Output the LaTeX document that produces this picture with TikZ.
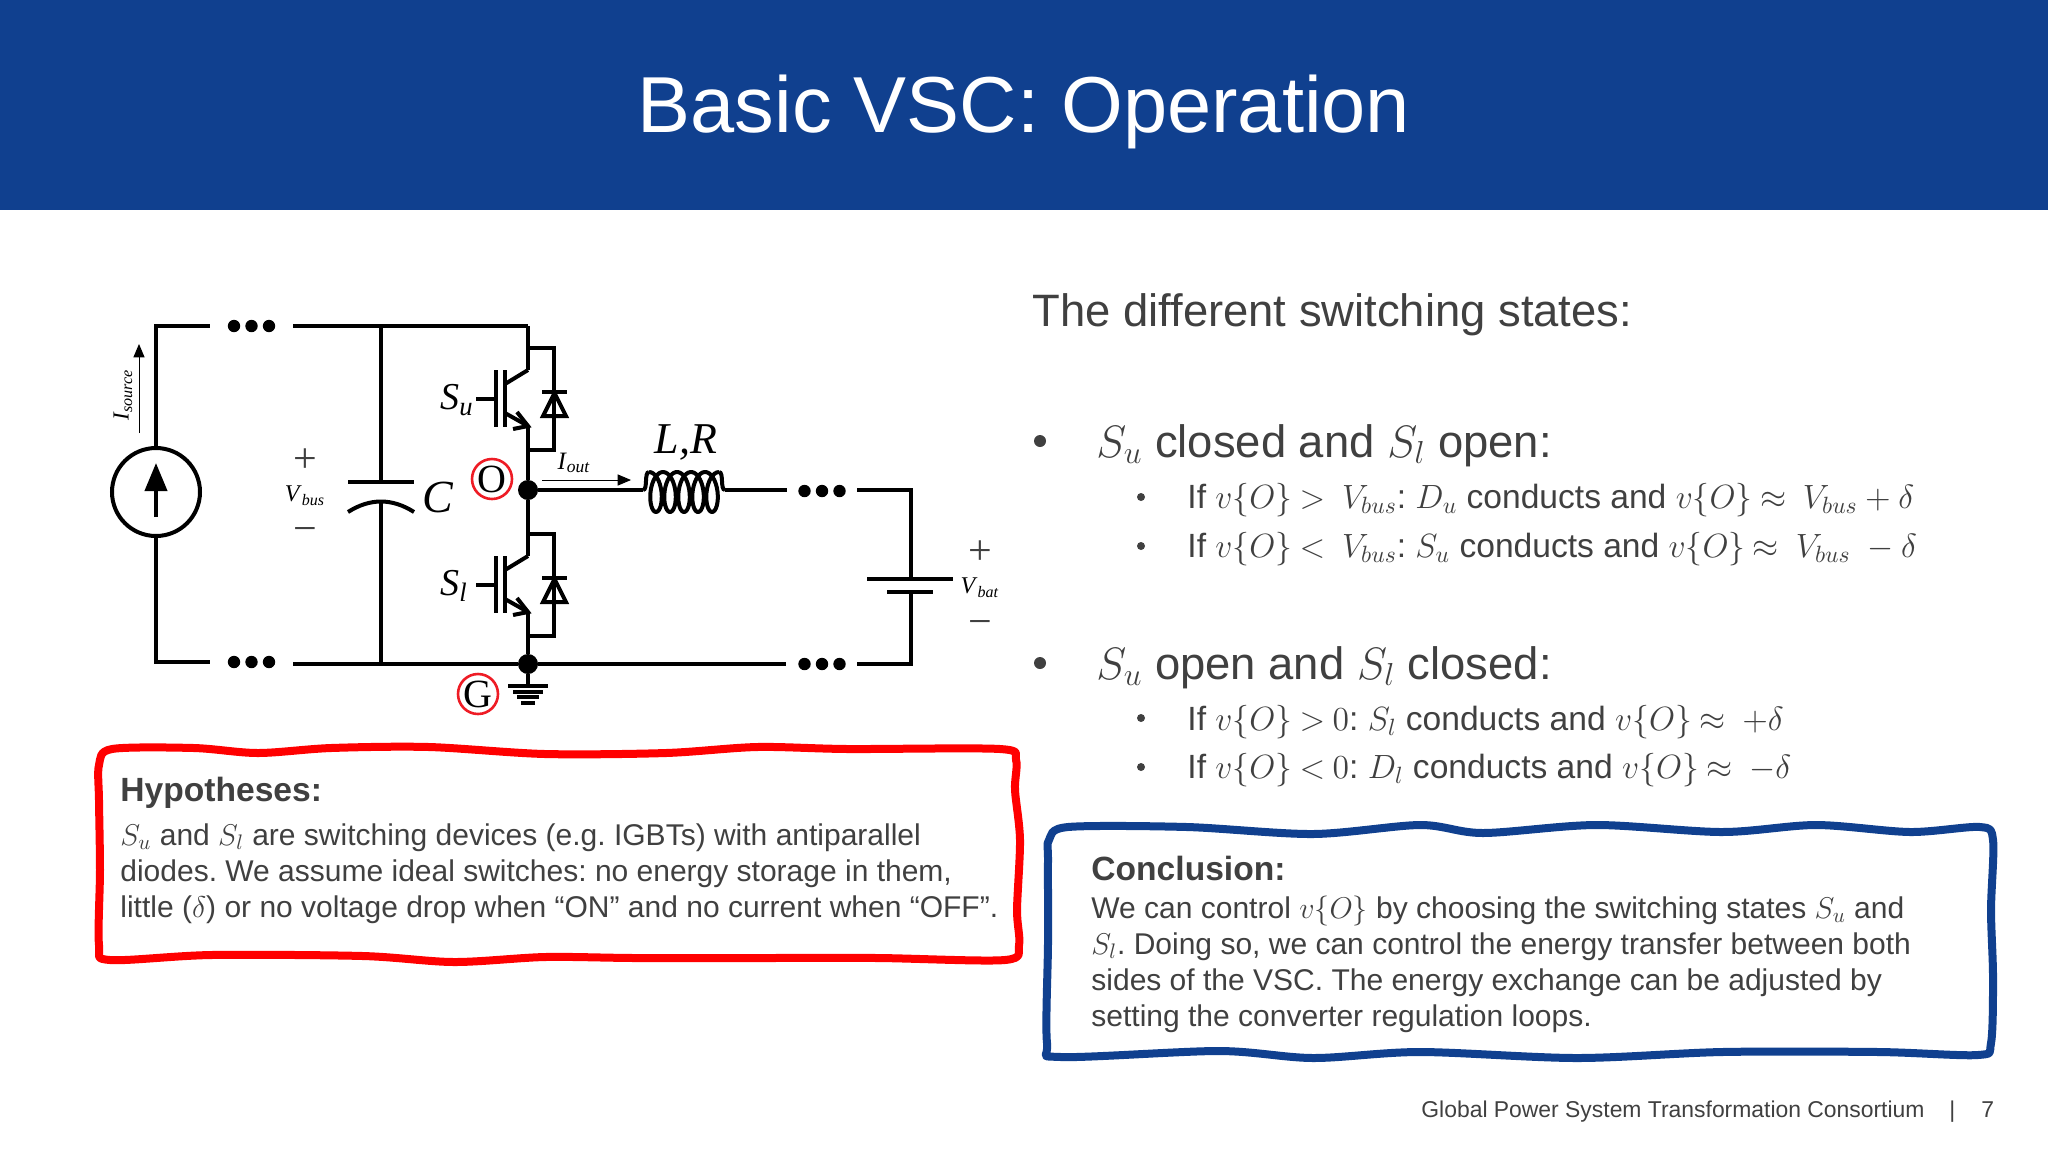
\RequirePackage{fix-cm}
\documentclass[tikz,border=0pt]{standalone}
\usepackage{amsmath}
\usepackage{fontspec}
\setmainfont{Liberation Sans}
\newfontfamily\circfont{Liberation Serif}
\usetikzlibrary{arrows,arrows.meta,calc,positioning}
\definecolor{slideblue}{HTML}{10408F}
\definecolor{slidegrey}{HTML}{404040}
\definecolor{markred}{HTML}{EE1C25}
\newcommand{\fsz}[1]{\fontsize{#1}{#1}\selectfont}
\newcommand{\circlbl}[3]{\fsz{#1}\circfont\textit{#2}\textsubscript{\textit{#3}}}
\newcommand{\vO}{v\{O\}}
\thickmuskip=4mu\relax
\frenchspacing
\tikzset{
	wire/.style={line width=2pt,black},
	thinarrow/.style={->,>=triangle 45,line width=0.5pt,black},
	wiredot/.style={circle,fill=black,inner sep=0pt,minimum size=6.2pt},
	joindot/.style={circle,fill=black,inner sep=0pt,minimum size=10pt},
	redmark/.style={circle,draw=markred,line width=1.3pt,inner sep=0pt,minimum size=20pt,font=\circfont\fsz{20}},
	txt/.style={anchor=base west,inner sep=0pt,text=slidegrey},
	lbl/.style={inner sep=0pt,text=black},
	lblgrey/.style={inner sep=0pt,text=black!75},
	bulletbig/.style={circle,fill=slidegrey,inner sep=0pt,minimum size=6pt},
	bulletsmall/.style={circle,fill=slidegrey,inner sep=0pt,minimum size=4pt},
	wavybox/.style={line width=4pt,line join=round,fill=white}
}
\begin{document}
\begin{tikzpicture}[x=0.5pt,y=-0.5pt]
	\useasboundingbox (0,0) rectangle (2048,1152);
	\fill[slideblue] (0,0) rectangle (2048,210);
	\node[inner sep=0pt,text=white,font=\fsz{39.7}] (title) at (1024,112) {Basic VSC: Operation};

	% circuit
	\node[circle,draw,line width=2pt,minimum size=44pt,inner sep=0pt] (src) at (156,492) {};
	\draw[line width=2pt,-{Triangle[length=14pt,width=11pt]}] (156,517) -- (156,463);
	\coordinate (tl1) at (210,326);
	\coordinate (tl2) at (293,326);
	\coordinate (bl1) at (210,662);
	\coordinate (bl2) at (293,664);
	\coordinate (coilL) at (643,490);
	\coordinate (coilR) at (725,490);
	\coordinate (tr1) at (787,490);
	\coordinate (tr2) at (857,490);
	\coordinate (br1) at (786,664);
	\coordinate (br2) at (857,664);
	\coordinate (top) at (528,326);
	\coordinate (capt) at (381,482);
	\coordinate (capb) at (381,503);
	\coordinate (batt) at (911,579);
	\coordinate (batb) at (911,592);
	\node[joindot] (nodeO) at (528,490) {};
	\node[joindot] (nodeG) at (528,664) {};
	\draw[wire] (src.north) |- (tl1);
	\draw[wire] (src.south) |- (bl1);
	\draw[wire] (tl2) -- (top);
	\draw[wire] (bl2) -- (nodeG) -- (br1);
	\draw[wire] (tl2 -| capt) -- (capt);
	\draw[wire] (capb) -- (bl2 -| capb);
	\draw[wire] (348,482) -- (414,482);
	\draw[wire] (348,512) .. controls (370,498) and (392,498) .. (414,512);
	\foreach \xc/\yc/\dotname in {251.5/326/dtl,251.5/662/dbl,822/491/dtr,822/664/dbr}
	{
		\node[wiredot] (\dotname a) at (\xc-17.5,\yc) {};
		\node[wiredot] (\dotname b) at (\xc,\yc) {};
		\node[wiredot] (\dotname c) at (\xc+17.5,\yc) {};
	}

	% the two switches, same drawing
	\foreach \sw/\yo in {u/0,l/186}
	{
		\begin{scope}[shift={(0,\yo)}]
			\coordinate (col\sw) at (528,370);
			\coordinate (emi\sw) at (528,426);
			\coordinate (dia\sw) at (554,348);
			\draw[wire] (476,399) -- (496,399);
			\draw[wire] (496,370) -- (496,427);
			\draw[wire] (505,370) -- (505,427);
			\draw[wire] (505,384) -- (col\sw);
			\draw[wire] (505,413) -- (emi\sw);
			\draw[wire,line join=miter] (517,412) -- (emi\sw) -- (513,429);
			\draw[wire] (528,348) -- (dia\sw) -- (554,450) -- (528,450);
			\draw[wire] (542,392) -- (567,392);
			\draw[wire,line join=miter] (543,416) -- (554.5,393) -- (566,416) -- cycle;
		\end{scope}
	}
	\draw[wire] (top) -- (colu);
	\draw[wire] (emiu) -- (nodeO);
	\draw[wire] (nodeO) -- (coll);
	\draw[wire] (emil) -- (nodeG);
	\draw[wire] (nodeG) -- (528,686);
	\draw[wire] (508,686) -- (548,686);
	\draw[wire] (513,692) -- (543,692);
	\draw[wire] (517,697) -- (539,697);
	\draw[wire] (521,703) -- (535,703);

	\draw[wire] (nodeO) -- (coilL);
	\draw[wire] (coilL) .. controls (648,490) and (644,472) .. (649,472);
	\draw[wire,line join=round] plot[domain=0:31.416,samples=160] ({649+2.23*\x+9*sin(\x r)},{492-20*cos(\x r)});
	\draw[wire] (719,472) .. controls (724,472) and (720,490) .. (coilR);
	\draw[wire] (coilR) -- (tr1);
	\draw[wire] (tr2) -| (batt);
	\draw[wire] (br2) -| (batb);
	\draw[wire] (867,579) -- (953,579);
	\draw[wire] (887,592) -- (933,592);
	\draw[thinarrow] (139,433) -- (139,344);
	\draw[thinarrow] (542,480) -- (631,480);

	\node[lbl,rotate=90] (isrc) at (123,395) {\circlbl{11.5}{I}{source}};
	\node[lbl] (su) at (457,400) {\circlbl{19}{S}{u}};
	\node[lbl] (sl) at (454,586) {\circlbl{19}{S}{l}};
	\node[lbl] (capC) at (438,497) {\fsz{23}\circfont\textit{C}};
	\node[lbl] (iout) at (574,463) {\circlbl{12.5}{I}{out}};
	\node[lbl] (lr) at (686,442) {\fsz{22}\circfont\textit{L,R}};
	\node[lblgrey,font=\circfont\fsz{21}] (busp) at (305,461) {+};
	\node[lbl] (vbus) at (305,496) {\circlbl{12}{V}{bus}};
	\node[lblgrey,font=\circfont\fsz{21}] (busm) at (305,535) {−};
	\node[lblgrey,font=\circfont\fsz{21}] (batp) at (980,553) {+};
	\node[lbl] (vbat) at (980,588) {\circlbl{12}{V}{bat}};
	\node[lblgrey,font=\circfont\fsz{21}] (batm) at (980,628) {−};
	\node[redmark] (markO) at (492,479) {O};
	\node[redmark] (markG) at (478,694) {G};

	% right column
	\node[txt,font=\fsz{22.7}] (head) at (1032,326) {The different switching states:};
	\node[bulletbig] (b1) at (1040,441) {};
	\node[txt,font=\fsz{22.7}] (t1) at (1096,457) {$S_u$ closed and $S_l$ open:};
	\node[bulletsmall] (b11) at (1141,497) {};
	\node[txt,font=\fsz{16.8}] (t11) at (1187,508) {If $\vO>\ V_{bus}$: $D_u$ conducts and $\vO\approx\ V_{bus}+\delta$};
	\node[bulletsmall] (b12) at (1141,546) {};
	\node[txt,font=\fsz{16.8}] (t12) at (1187,557) {If $\vO<\ V_{bus}$: $S_u$ conducts and $\vO\approx\ V_{bus}\ -\delta$};
	\node[bulletbig] (b2) at (1040,663) {};
	\node[txt,font=\fsz{22.7}] (t2) at (1096,679) {$S_u$ open and $S_l$ closed:};
	\node[bulletsmall] (b21) at (1141,718) {};
	\node[txt,font=\fsz{16.8}] (t21) at (1187,730) {If $\vO>0$: $S_l$ conducts and $\vO\approx\ +\delta$};
	\node[bulletsmall] (b22) at (1141,767) {};
	\node[txt,font=\fsz{16.8}] (t22) at (1187,778) {If $\vO<0$: $D_l$ conducts and $\vO\approx\ -\delta$};

	% hand drawn boxes
	\draw[wavybox,draw=red] plot[smooth cycle,tension=0.5] coordinates {(112,749) (194,748) (258,753) (331,748) (429,747) (545,754) (666,753) (757,747) (848,749) (1000,749) (1016,760) (1015,790) (1020,840) (1017,910) (1019,945) (1005,960) (878,958) (757,958) (635,958) (545,957) (454,962) (363,956) (211,955) (110,960) (99,945) (100,870) (99,800) (99,765)};
	\node[txt,font=\bfseries\fsz{16.8}] (hypo) at (120,801) {Hypotheses:};
	\node[txt,font=\fsz{15}] (hypo1) at (120,845) {$S_u$ and $S_l$ are switching devices (e.g. IGBTs) with antiparallel};
	\node[txt,font=\fsz{15}] (hypo2) at (120,881) {diodes. We assume ideal switches: no energy storage in them,};
	\node[txt,font=\fsz{15}] (hypo3) at (120,917) {little ($\delta$) or no voltage drop when “ON” and no current when “OFF”.};

	\draw[wavybox,draw=slideblue] plot[smooth cycle,tension=0.5] coordinates {(1068,827) (1187,827) (1313,834) (1420,825) (1483,833) (1596,825) (1722,832) (1816,825) (1910,832) (1980,827) (1993,840) (1991,910) (1993,977) (1991,1043) (1978,1055) (1879,1052) (1722,1052) (1577,1058) (1420,1052) (1313,1058) (1219,1051) (1061,1057) (1047,1043) (1048,943) (1048,860) (1049,840)};
	\node[txt,font=\bfseries\fsz{16.8}] (conc) at (1091,880) {Conclusion:};
	\node[txt,font=\fsz{15}] (conc1) at (1091,918) {We can control $\vO$ by choosing the switching states $S_u$ and};
	\node[txt,font=\fsz{15}] (conc2) at (1091,954) {$S_l$. Doing so, we can control the energy transfer between both};
	\node[txt,font=\fsz{15}] (conc3) at (1091,990) {sides of the VSC. The energy exchange can be adjusted by};
	\node[txt,font=\fsz{15}] (conc4) at (1091,1026) {setting the converter regulation loops.};

	% footer
	\node[txt,font=\fsz{11.45}] (foot) at (1421,1117) {Global Power System Transformation Consortium};
	\node[txt,font=\fsz{11.45}] (sep) at (1949,1117) {|};
	\node[txt,font=\fsz{11.45}] (page) at (1981,1117) {7};
\end{tikzpicture}
\end{document}
